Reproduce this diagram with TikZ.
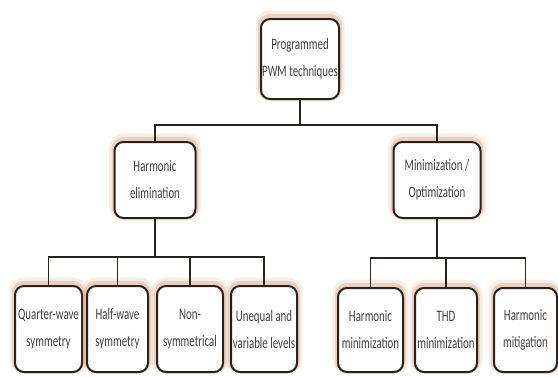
\documentclass[tikz,border=0pt]{standalone}
\usepackage{fontspec}
\newfontfamily\boxfont[FakeStretch=0.68]{Carlito}
\definecolor{glowtan}{RGB}{205,140,90}
\definecolor{boxline}{RGB}{40,34,30}
\tikzset{
  techbox/.style={draw=boxline, line width=2pt, rounded corners=9pt, fill=white,
    align=center, font=\boxfont\fontsize{16}{27}\selectfont, text=black!75, inner sep=1pt,
    preaction={draw=glowtan, line width=11pt, opacity=.15, transform canvas={yshift=3pt}},
    preaction={draw=glowtan, line width=6pt, opacity=.3, transform canvas={yshift=2pt}}},
  link/.style={line width=1.8pt, boxline}
}
\begin{document}
\begin{tikzpicture}[x=1pt,y=-1pt]
    \useasboundingbox (0,0) rectangle (558,376);
    % top level
    \node[techbox, minimum width=78, minimum height=80] (top) at (300,59) {Programmed\\PWM techniques};
    % second level
    \node[techbox, minimum width=81, minimum height=76] (he) at (155,180) {Harmonic\\elimination};
    \node[techbox, minimum width=87, minimum height=76] (mo) at (437,180) {Minimization /\\Optimization};
    % third level
    \node[techbox, minimum width=67, minimum height=86] (qw) at (48.5,329) {Quarter-wave\\symmetry};
    \node[techbox, minimum width=61, minimum height=86] (hw) at (117.5,329) {Half-wave\\symmetry};
    \node[techbox, minimum width=66, minimum height=86] (ns) at (190,329) {Non-\\symmetrical};
    \node[techbox, minimum width=66, minimum height=86] (ul) at (264,329) {Unequal and\\variable levels};
    \node[techbox, minimum width=65, minimum height=84] (hm) at (370.5,330) {Harmonic\\minimization};
    \node[techbox, minimum width=62, minimum height=84] (thd) at (446,330) {THD\\minimization};
    \node[techbox, minimum width=63, minimum height=84] (hg) at (525.5,330) {Harmonic\\mitigation};
    % connectors
    \draw[link] (top.south) -- ++(0,25) coordinate (tj);
    \draw[link] (he.north) |- (tj) -| (mo.north);
    \draw[link] (he.south) -- ++(0,38) coordinate (hj);
    \draw[link] (qw.north) |- (hj) -| (ul.north);
    \draw[link] (hw.north) -- (hw.north |- hj);
    \draw[link] (ns.north) -- (ns.north |- hj);
    \draw[link] (mo.south) -- ++(0,39) coordinate (mj);
    \draw[link] (hm.north) |- (mj) -| (hg.north);
    \draw[link] (thd.north) -- (thd.north |- mj);
\end{tikzpicture}
\end{document}
